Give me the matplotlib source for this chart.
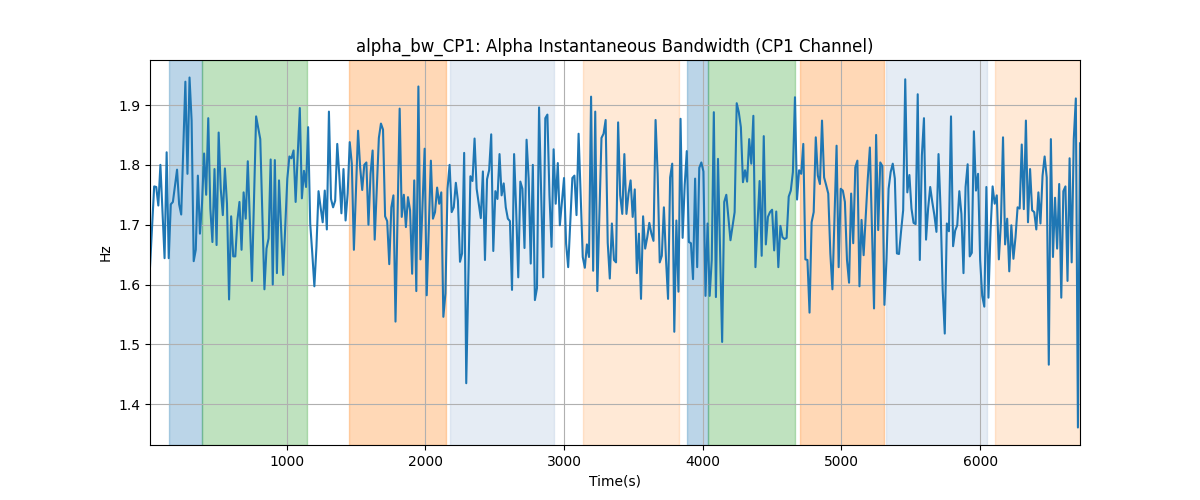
import matplotlib
matplotlib.use('Agg')
import matplotlib.pyplot as plt
import numpy as np

# sample index (one sample every 15 s, first sample at 15 s)
DT = 15
sample_idx = [
    0, 2, 3, 4, 5, 7, 8, 9, 10, 11, 13, 14, 15, 17, 18, 19, 20, 21, 22, 23,
    24, 25, 26, 27, 28, 29, 30, 31, 32, 33, 34, 35, 36, 37, 38, 39, 40, 41, 42, 43,
    44, 45, 46, 47, 49, 51, 53, 55, 56, 57, 58, 59, 60, 61, 62, 64, 66, 67, 68, 69,
    70, 72, 73, 74, 75, 76,
    77, 78, 79, 80, 81, 82, 83, 84, 85, 86, 87, 88, 89, 90, 91, 92, 93, 94, 95, 96,
    97, 98, 100, 101, 102, 103, 104, 105, 106, 107, 108, 110, 111, 112, 113, 114, 115, 116, 117, 118,
    120, 121, 122, 123, 124, 125, 126, 127, 128, 129, 130, 132, 133, 135, 136, 137, 138, 139, 140, 141,
    142, 143, 144, 145, 146, 147, 148, 149,
    150, 151, 152, 154, 155, 156, 157, 158, 159, 160, 161, 162, 163, 164, 165, 166, 167, 168, 169, 170,
    171, 172, 173, 174, 175, 176, 177, 178, 179, 180, 181, 182, 183, 184, 185, 186, 187, 189, 190, 191,
    192, 193, 194, 195, 196, 197, 199, 200, 201, 203, 204, 205, 206, 208, 209, 210, 211, 212, 213, 214,
    215, 217, 218, 219, 220, 221,
    222, 223, 224, 225, 226, 227, 228, 229, 230, 231, 232, 233, 234, 235, 236, 237, 238, 239, 240, 241,
    242, 243, 244, 245, 246, 247, 248, 249, 250, 251, 252, 253, 254, 255, 256, 257, 258, 259, 260, 261,
    262, 263, 264, 265, 266, 267, 268, 269, 270, 271, 272, 273, 275, 276, 277, 279, 281, 282, 283, 284,
    285, 286, 287, 288, 289, 290, 291, 293,
    294, 295, 296, 297, 298, 299, 300, 301, 302, 303, 304, 305, 306, 307, 308, 309, 310, 311, 312, 313,
    314, 315, 316, 317, 318, 319, 320, 321, 322, 323, 324, 325, 326, 327, 328, 330, 331, 332, 333, 334,
    335, 336, 337, 338, 339, 340, 341, 342, 343, 345, 346, 348, 349, 350, 351, 352, 353, 354, 355, 356,
    357, 358, 359, 360, 361, 362, 363, 364, 365,
    366, 367, 368, 369, 370, 371, 372, 373, 374, 375, 376, 377, 378, 379, 380, 381, 382, 383, 384, 385,
    386, 387, 388, 389, 390, 391, 392, 393, 394, 395, 396, 397, 398, 399, 400, 401, 402, 403, 404, 405,
    406, 407, 408, 409, 410, 411, 412, 413, 414, 415, 416, 417, 418, 419, 420, 421, 422, 423, 424, 425,
    426, 427, 428, 429, 430, 431, 432, 433, 434, 435, 436, 437, 438, 439, 440, 441, 442, 443, 444, 445,
    446, 447,
]

# alpha instantaneous bandwidth (Hz)
bw_hz = [
    1.629, 1.764, 1.763, 1.732, 1.800, 1.644, 1.821, 1.644, 1.734, 1.738, 1.792, 1.734, 1.717, 1.939, 1.785, 1.946, 1.874, 1.639, 1.658, 1.782,
    1.685, 1.735, 1.819, 1.750, 1.878, 1.727, 1.671, 1.793, 1.666, 1.854, 1.760, 1.716, 1.794, 1.735, 1.575, 1.714, 1.647, 1.647, 1.707, 1.738,
    1.658, 1.754, 1.710, 1.806, 1.606, 1.881, 1.843, 1.592, 1.660, 1.677, 1.809, 1.600, 1.808, 1.619, 1.774, 1.616, 1.777, 1.814, 1.811, 1.824,
    1.738, 1.895, 1.744, 1.790, 1.763, 1.863,
    1.702, 1.652, 1.597, 1.663, 1.756, 1.729, 1.704, 1.757, 1.692, 1.889, 1.743, 1.729, 1.740, 1.835, 1.782, 1.719, 1.793, 1.707, 1.752, 1.838,
    1.802, 1.658, 1.857, 1.796, 1.758, 1.800, 1.804, 1.700, 1.785, 1.824, 1.675, 1.845, 1.869, 1.859, 1.714, 1.706, 1.634, 1.729, 1.749, 1.538,
    1.894, 1.713, 1.750, 1.696, 1.746, 1.724, 1.618, 1.774, 1.589, 1.931, 1.642, 1.827, 1.582, 1.807, 1.710, 1.721, 1.762, 1.735, 1.754, 1.546,
    1.585, 1.760, 1.800, 1.721, 1.729, 1.770, 1.740, 1.638,
    1.652, 1.820, 1.435, 1.781, 1.773, 1.844, 1.760, 1.735, 1.711, 1.789, 1.641, 1.776, 1.791, 1.851, 1.656, 1.756, 1.743, 1.818, 1.749, 1.769,
    1.729, 1.710, 1.706, 1.591, 1.818, 1.724, 1.612, 1.772, 1.760, 1.661, 1.842, 1.777, 1.635, 1.800, 1.574, 1.594, 1.896, 1.612, 1.878, 1.884,
    1.749, 1.663, 1.826, 1.735, 1.803, 1.699, 1.778, 1.668, 1.629, 1.778, 1.782, 1.716, 1.852, 1.646, 1.628, 1.667, 1.646, 1.914, 1.623, 1.889,
    1.589, 1.845, 1.852, 1.875, 1.670, 1.610,
    1.702, 1.641, 1.637, 1.871, 1.749, 1.718, 1.818, 1.718, 1.752, 1.774, 1.713, 1.759, 1.619, 1.685, 1.576, 1.714, 1.660, 1.679, 1.703, 1.685,
    1.673, 1.875, 1.785, 1.637, 1.648, 1.729, 1.643, 1.576, 1.779, 1.802, 1.521, 1.707, 1.588, 1.877, 1.678, 1.766, 1.823, 1.671, 1.669, 1.609,
    1.777, 1.629, 1.795, 1.804, 1.789, 1.581, 1.702, 1.581, 1.641, 1.888, 1.579, 1.810, 1.504, 1.738, 1.750, 1.674, 1.721, 1.903, 1.888, 1.863,
    1.771, 1.791, 1.772, 1.843, 1.802, 1.882, 1.629, 1.773,
    1.648, 1.848, 1.667, 1.713, 1.721, 1.725, 1.657, 1.722, 1.629, 1.698, 1.679, 1.676, 1.678, 1.747, 1.757, 1.788, 1.913, 1.742, 1.791, 1.785,
    1.835, 1.642, 1.641, 1.553, 1.704, 1.721, 1.846, 1.782, 1.768, 1.874, 1.779, 1.766, 1.752, 1.652, 1.592, 1.832, 1.629, 1.760, 1.757, 1.738,
    1.641, 1.603, 1.752, 1.669, 1.796, 1.807, 1.597, 1.708, 1.649, 1.777, 1.829, 1.560, 1.850, 1.691, 1.804, 1.798, 1.566, 1.643, 1.760, 1.788,
    1.802, 1.777, 1.652, 1.651, 1.689, 1.724, 1.943, 1.754, 1.783,
    1.727, 1.703, 1.701, 1.918, 1.641, 1.816, 1.878, 1.675, 1.727, 1.763, 1.738, 1.716, 1.688, 1.818, 1.724, 1.591, 1.518, 1.702, 1.689, 1.881,
    1.664, 1.690, 1.699, 1.756, 1.718, 1.619, 1.763, 1.801, 1.647, 1.653, 1.856, 1.757, 1.785, 1.641, 1.581, 1.563, 1.763, 1.578, 1.690, 1.764,
    1.735, 1.749, 1.642, 1.704, 1.846, 1.667, 1.710, 1.622, 1.699, 1.643, 1.679, 1.729, 1.727, 1.834, 1.726, 1.874, 1.704, 1.793, 1.724, 1.721,
    1.692, 1.754, 1.702, 1.782, 1.814, 1.779, 1.466, 1.843, 1.646, 1.745, 1.660, 1.768, 1.578, 1.756, 1.764, 1.606, 1.811, 1.637, 1.843, 1.911,
    1.361, 1.836,
]

# shaded segments (start s, end s, colour, alpha)
seg_start = [150, 390, 1450, 2180, 3135, 3890, 4035, 4700, 5320, 6105]
seg_end = [390, 1150, 2150, 2925, 3830, 4035, 4665, 5305, 6050, 6720]
seg_color = ['tab:blue', 'tab:green', 'tab:orange', 'lightsteelblue', 'tab:orange',
             'tab:blue', 'tab:green', 'tab:orange', 'lightsteelblue', 'tab:orange']
seg_alpha = [0.3, 0.3, 0.3, 0.32, 0.17, 0.3, 0.3, 0.3, 0.32, 0.17]

t = (np.array(sample_idx) + 1) * DT
bw = np.array(bw_hz)

fig, ax = plt.subplots(figsize=(12, 5), dpi=100)

for s, e, c, a in zip(seg_start, seg_end, seg_color, seg_alpha):
    ax.axvspan(s, e, color=c, alpha=a)

ax.plot(t, bw, color='tab:blue', linewidth=1.5)

ax.set_xlim(t.min(), t.max())
ax.set_title('alpha_bw_CP1: Alpha Instantaneous Bandwidth (CP1 Channel)')
ax.set_xlabel('Time(s)')
ax.set_ylabel('Hz')
ax.grid(True)

plt.savefig('out.png')
